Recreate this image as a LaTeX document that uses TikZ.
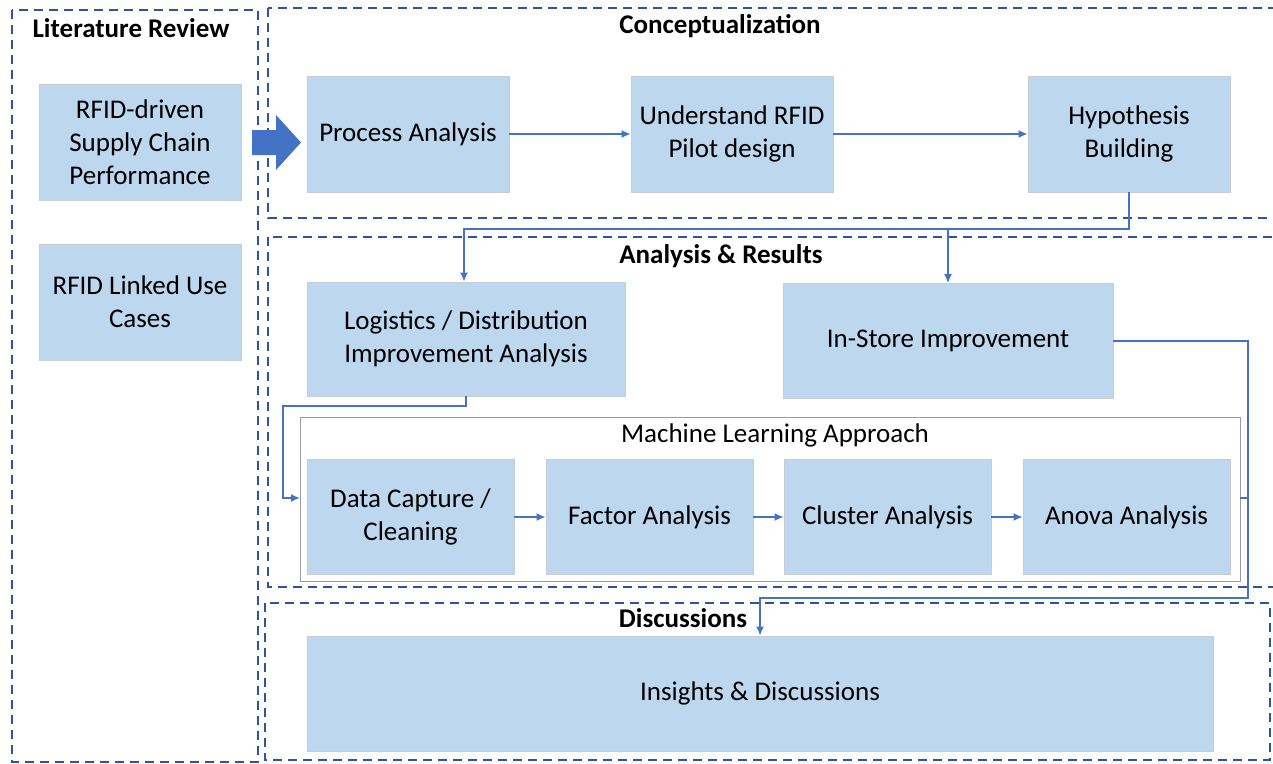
\documentclass[tikz,border=0pt]{standalone}
\usepackage{fontspec}
\setmainfont{Carlito}
\usetikzlibrary{arrows.meta,calc}
\definecolor{BoxClr}{RGB}{189,215,238}
\definecolor{BoxLineClr}{RGB}{200,205,212}
\definecolor{FrameClr}{RGB}{47,85,151}
\definecolor{LinkClr}{RGB}{68,114,196}
\definecolor{MLClr}{RGB}{150,155,165}

\begin{document}
\begin{tikzpicture}[x=1pt,y=-1pt,
  box/.style={draw=BoxLineClr,line width=0.8pt,fill=BoxClr,align=center,inner sep=0pt,
    font=\fontsize{27}{33}\selectfont},
  frame/.style={draw=FrameClr,line width=2.4pt,dash pattern=on 9pt off 6pt},
  title/.style={font=\bfseries\fontsize{27}{30}\selectfont,inner sep=0pt},
  link/.style={draw=LinkClr,line width=1.6pt,-{Latex[length=9pt,width=8pt]}},
  plainlink/.style={draw=LinkClr,line width=1.6pt}]
\useasboundingbox (0,0) rectangle (1273,763);

% frames
\draw[frame] (12,10) rectangle (258,762);
\draw[frame] (268,8) rectangle (1290,218);
\draw[frame] (268,237) rectangle (1290,587);
\draw[frame] (265,603) rectangle (1270,760);

\node[title] (litT) at (131,28) {Literature Review};
\node[title] (conT) at (720,26) {Conceptualization};
\node[title] (anaT) at (721,256) {Analysis \& Results};
\node[title] (disT) at (683,618) {Discussions};

% literature review
\node[box,minimum width=202pt,minimum height=116pt] (rfidSC) at (140,142)
  {RFID-driven\\Supply Chain\\Performance};
\node[box,minimum width=202pt,minimum height=116pt] (rfidUC) at (140,302)
  {RFID Linked Use\\Cases};
\fill[LinkClr] (252,130) -- (276,130) -- (276,115) -- (301,142.5) -- (276,170)
  -- (276,155) -- (252,155) -- cycle;

% conceptualization
\node[box,minimum width=202pt,minimum height=116pt] (proc) at (408,134) {Process Analysis};
\node[box,minimum width=202pt,minimum height=116pt] (pilot) at (732,134)
  {Understand RFID\\Pilot design};
\node[box,minimum width=202pt,minimum height=116pt] (hyp) at (1129,134)
  {Hypothesis\\Building};

% analysis & results
\node[box,minimum width=318pt,minimum height=114pt] (logi) at (466,339)
  {Logistics / Distribution\\Improvement Analysis};
\node[box,minimum width=330pt,minimum height=115pt] (store) at (948,341)
  {In-Store Improvement};

\draw[draw=MLClr,line width=0.8pt] (300,417) rectangle (1240,581);
\coordinate (mlW) at (300,498);
\coordinate (mlE) at (1240,498);
\node[inner sep=0pt,font=\fontsize{27}{30}\selectfont] (mlT) at (775,435)
  {Machine Learning Approach};

\node[box,minimum width=207pt,minimum height=115pt] (capt) at (410.5,517)
  {Data Capture /\\Cleaning};
\node[box,minimum width=207pt,minimum height=115pt] (fact) at (649.5,517)
  {Factor Analysis};
\node[box,minimum width=207pt,minimum height=115pt] (clus) at (887.5,517)
  {Cluster Analysis};
\node[box,minimum width=207pt,minimum height=115pt] (anova) at (1126.5,517)
  {Anova Analysis};

% discussions
\node[box,minimum width=906pt,minimum height=115pt] (ins) at (760,693.5)
  {Insights \& Discussions};

% connectors
\draw[link] (proc) -- (pilot);
\draw[link] (pilot) -- (hyp);
\draw[link] (hyp.south) |- (464,229) -- (logi.north -| 464,0);
\draw[link] (948,229) -- (store.north);
\draw[link] (logi.south) |- (283,406) |- (mlW);
\draw[link] (capt) -- (fact);
\draw[link] (fact) -- (clus);
\draw[link] (clus) -- (anova);
\draw[link] (store.east) -| (1248,598) -| (ins.north);
\draw[plainlink] (mlE) -- (1248,498);
\end{tikzpicture}
\end{document}
